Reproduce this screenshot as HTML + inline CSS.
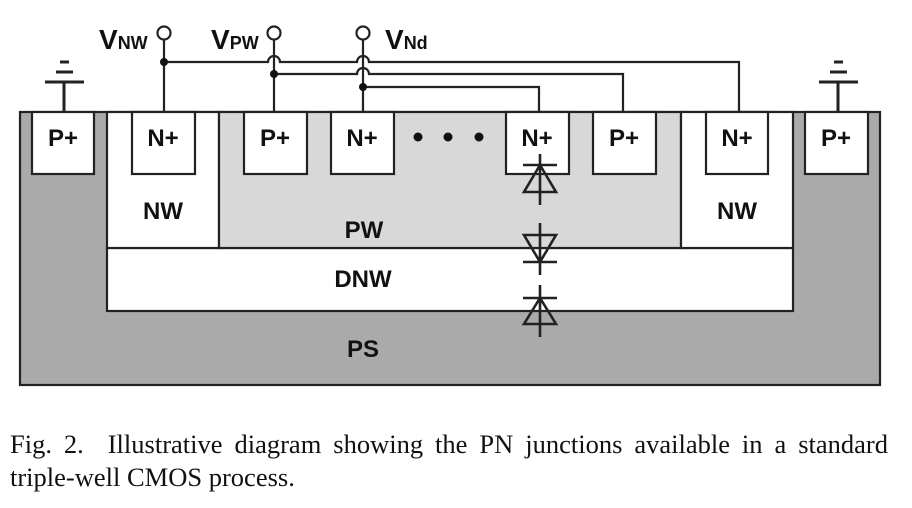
<!DOCTYPE html>
<html><head><meta charset="utf-8"><style>
html,body{margin:0;padding:0;background:#fff;width:912px;height:508px;overflow:hidden}
svg{position:absolute;left:0;top:0}
.lb{font-family:"Liberation Sans",sans-serif;font-weight:bold;font-size:24px;text-anchor:middle;fill:#111}
.cap{position:absolute;left:10px;width:878px;font-family:"Liberation Serif",serif;font-size:26.5px;color:#111;line-height:33px;text-align:justify;text-align-last:justify;white-space:nowrap}
</style></head><body>
<svg width="912" height="508">
<g stroke="#222" stroke-width="2.2" fill="none">
<rect x="20" y="112" width="860" height="273" fill="#aaa"/>
<rect x="107" y="248" width="686" height="63" fill="#fff"/>
<rect x="107" y="112" width="112" height="136" fill="#fff"/>
<rect x="219" y="112" width="462" height="136" fill="#d8d8d8"/>
<rect x="681" y="112" width="112" height="136" fill="#fff"/>
<rect x="32" y="112" width="62" height="62" fill="#fff"/>
<rect x="132" y="112" width="63" height="62" fill="#fff"/>
<rect x="244" y="112" width="63" height="62" fill="#fff"/>
<rect x="331" y="112" width="63" height="62" fill="#fff"/>
<rect x="506" y="112" width="63" height="62" fill="#fff"/>
<rect x="593" y="112" width="63" height="62" fill="#fff"/>
<rect x="706" y="112" width="62" height="62" fill="#fff"/>
<rect x="805" y="112" width="63" height="62" fill="#fff"/>
<path d="M164 40V112M164 62H268a6 6 0 0 1 12 0H357a6 6 0 0 1 12 0H739V112"/>
<path d="M274 40V112M274 74H357a6 6 0 0 1 12 0H623V112"/>
<path d="M363 40V112M363 87H539V112"/>
<circle cx="164" cy="33" r="6.5" fill="#fff"/><circle cx="274" cy="33" r="6.5" fill="#fff"/><circle cx="363" cy="33" r="6.5" fill="#fff"/>
<path d="M64 83V112M45 82H84M56 72H73M60 62H69" stroke-width="3"/>
<path d="M838 83V112M819 82H858M830 72H847M834 62H843" stroke-width="3"/>
<g stroke-width="2.6"><path d="M540 154V205M523 165H557M540 165L524 192H556Z"/></g>
<g stroke-width="2.6"><path d="M540 223V275M523 262H557M540 262L524 235H556Z"/></g>
<g stroke-width="2.6"><path d="M540 285V337M523 298H557M540 298L524 324H556Z"/></g>
</g>
<g fill="#111"><circle cx="164" cy="62" r="4"/><circle cx="274" cy="74" r="4"/><circle cx="363" cy="87" r="4"/>
<circle cx="418" cy="137" r="4.5"/><circle cx="448" cy="137" r="4.5"/><circle cx="479" cy="137" r="4.5"/></g>
<g class="lb">
<text x="63" y="146">P+</text><text x="163" y="146">N+</text><text x="275" y="146">P+</text><text x="362" y="146">N+</text>
<text x="537" y="146">N+</text><text x="624" y="146">P+</text><text x="737" y="146">N+</text><text x="836" y="146">P+</text>
<text x="163" y="219">NW</text><text x="364" y="238">PW</text><text x="737" y="219">NW</text>
<text x="363" y="287">DNW</text><text x="363" y="357">PS</text>
</g>
<g font-family="Liberation Sans,sans-serif" font-weight="bold" fill="#111">
<text x="99" y="49" font-size="28">V<tspan font-size="18">NW</tspan></text>
<text x="211" y="49" font-size="28">V<tspan font-size="18">PW</tspan></text>
<text x="385" y="49" font-size="28">V<tspan font-size="18">Nd</tspan></text>
</g>
</svg>
<div class="cap" style="top:428px">Fig. 2.&nbsp; Illustrative diagram showing the PN junctions available in a standard</div>
<div class="cap" style="top:461px;text-align-last:left">triple-well CMOS process.</div>
</body></html>
